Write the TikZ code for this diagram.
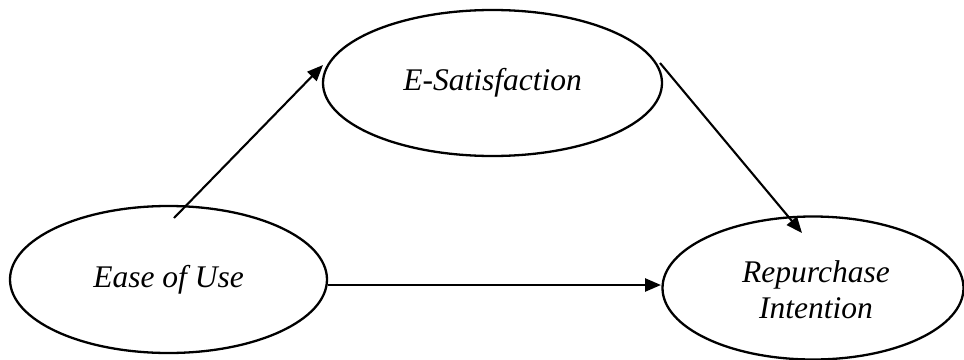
\documentclass[tikz,border=0pt]{standalone}
\usepackage{fontspec}
\setmainfont{Liberation Serif}
\usetikzlibrary{shapes.geometric,arrows.meta}
\begin{document}
\begin{tikzpicture}[x=1pt,y=-1pt,
  construct/.style={draw=black,line width=2.3pt,ellipse,inner sep=0pt,
    font=\fontsize{31.5}{37}\selectfont\itshape,align=center},
  path/.style={draw=black,line width=2.1pt,-{Triangle[length=16pt,width=13pt]}}]
\useasboundingbox (0,0) rectangle (964,359);
\node[construct,minimum width=339pt,minimum height=146pt] (esat) at (492.5,83) {E-Satisfaction};
\node[construct,minimum width=317pt,minimum height=147pt] (eou) at (168.5,279.5) {Ease of Use};
\node[construct,minimum width=301pt,minimum height=143pt] (ri) at (813,288) {};
\node[font=\fontsize{31.5}{36}\selectfont\itshape,align=center] (rilabel) at (816,290) {Repurchase\\Intention};
\coordinate (a1s) at (174,218);
\coordinate (a1e) at (323,65);
\coordinate (a2s) at (660,63);
\coordinate (a2e) at (802,233);
\coordinate (a3s) at (eou.east);
\coordinate (a3e) at (661,285);
\draw[path] (a1s) -- (a1e);
\draw[path] (a2s) -- (a2e);
\draw[path,line width=2.5pt] (a3s |- 0,285) -- (a3e);
\end{tikzpicture}
\end{document}
